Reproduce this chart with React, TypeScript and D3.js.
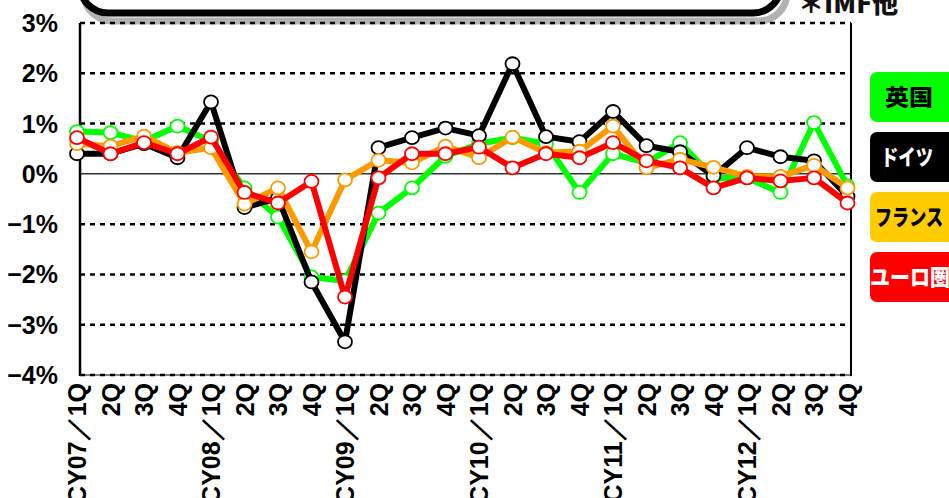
import React from "react";
import * as d3 from "d3";

const quarters = [
  "CY07／1Q", "2Q", "3Q", "4Q",
  "CY08／1Q", "2Q", "3Q", "4Q",
  "CY09／1Q", "2Q", "3Q", "4Q",
  "CY10／1Q", "2Q", "3Q", "4Q",
  "CY11／1Q", "2Q", "3Q", "4Q",
  "CY12／1Q", "2Q", "3Q", "4Q",
];

const yTicks = [3, 2, 1, 0, -1, -2, -3, -4];

const uk = [0.84, 0.82, 0.65, 0.95, 0.65, -0.28, -0.86, -2.05, -2.13, -0.78, -0.28, 0.35,
  0.6, 0.72, 0.6, -0.37, 0.4, 0.22, 0.62, -0.08, -0.08, -0.37, 1.02, -0.24];
const germany = [0.4, 0.4, 0.6, 0.32, 1.43, -0.67, -0.48, -2.15, -3.34, 0.52, 0.72, 0.91,
  0.76, 2.19, 0.74, 0.64, 1.24, 0.56, 0.44, -0.04, 0.52, 0.34, 0.26, -0.45];
const france = [0.6, 0.55, 0.75, 0.42, 0.52, -0.6, -0.28, -1.55, -0.12, 0.27, 0.22, 0.55,
  0.32, 0.73, 0.42, 0.45, 0.95, 0.12, 0.29, 0.13, -0.05, -0.05, 0.17, -0.28];
const euro = [0.72, 0.4, 0.62, 0.4, 0.73, -0.37, -0.58, -0.15, -2.45, -0.08, 0.4, 0.4,
  0.53, 0.12, 0.4, 0.32, 0.62, 0.26, 0.12, -0.28, -0.08, -0.14, -0.08, -0.58];

const seriesNames = ["英国", "ドイツ", "フランス", "ユーロ圏"];
const seriesColors = ["#00ff00", "#000000", "#ff9900", "#ff0000"];
const legendFills = ["#00ff00", "#000000", "#ffcc00", "#ff0000"];
const legendText = ["#000000", "#ffffff", "#000000", "#ffffff"];
const seriesData = [uk, germany, france, euro];

const NARROW = "'Liberation Sans Narrow', 'Arial Narrow', 'Liberation Sans', Arial, sans-serif";
const CJK = "'Noto Sans CJK JP', sans-serif";

export default function App() {
  const W = 949, H = 498;
  const x = d3.scalePoint<number>().domain(quarters.map((_, i) => i)).range([77, 847.5]);
  const y = d3.scaleLinear().domain([-4, 3]).range([375, 23]);
  const line = d3.line<number>().x((_, i) => x(i) as number).y((d) => y(d));
  const plotL = 80, plotR = 851;

  return (
    <svg width={W} height={H} style={{ position: "absolute", left: 0, top: 0, background: "#fff" }}>
      {/* title box (cropped) */}
      <rect x={84} y={-60} width={703} height={81} rx={28} fill="none" stroke="#b3b3b3" strokeWidth={7} />
      <rect x={80} y={-60} width={701} height={73} rx={28} fill="#fff" stroke="#000" strokeWidth={7} />
      <text x={798} y={13} fontFamily={CJK} fontWeight={900} fontSize={26} fill="#111"
        textLength={100} lengthAdjust="spacingAndGlyphs">＊IMF他</text>

      {/* grid */}
      {yTicks.map((t) => (
        t === 0 ? (
          <line key={t} x1={plotL} x2={plotR} y1={y(t)} y2={y(t)} stroke="#333" strokeWidth={1.5} />
        ) : (
          <line key={t} x1={plotL} x2={plotR} y1={y(t)} y2={y(t)} stroke="#000" strokeWidth={2.5} strokeDasharray="5,5" />
        )
      ))}
      <line x1={plotL} x2={plotR} y1={y(-4)} y2={y(-4)} stroke="#000" strokeWidth={1} />
      <line x1={plotL} x2={plotL} y1={y(3)} y2={y(-4) + 1} stroke="#000" strokeWidth={2.5} />
      <line x1={plotR} x2={plotR} y1={y(3)} y2={y(-4) + 1} stroke="#000" strokeWidth={2} />

      {/* y labels */}
      {yTicks.map((t) => (
        <text key={t} x={58} y={y(t)} dy="0.36em" textAnchor="end" fontFamily={NARROW} fontWeight={700} fontSize={25} fill="#000">
          {t < 0 ? `−${-t}%` : `${t}%`}
        </text>
      ))}

      {/* x labels */}
      {quarters.map((q, i) => (
        <text key={i} transform={`translate(${(x(i) as number) + 9},383) rotate(-90)`} textAnchor="end"
          fontFamily={NARROW} fontWeight={700} fontSize={25} fill="#000">{q}</text>
      ))}

      {/* series */}
      {seriesData.map((s, k) => (
        <g key={k}>
          <path d={line(s) as string} fill="none" stroke={seriesColors[k]} strokeWidth={6} strokeLinejoin="round" />
          {s.map((v, i) => (
            <ellipse key={i} cx={x(i) as number} cy={y(v)} rx={7} ry={6.5} fill="#fff" stroke={seriesColors[k]} strokeWidth={1.8} />
          ))}
        </g>
      ))}

      {/* legend */}
      {seriesNames.map((n, k) => (
        <g key={k}>
          <rect x={870} y={72 + k * 60} width={90} height={50} rx={7} fill={legendFills[k]} />
          <text x={k === 0 ? 909 : k === 1 ? 907 : k === 2 ? 909 : 910} y={97 + k * 60} dy="0.36em" textAnchor="middle"
            fontFamily={CJK} fontWeight={900} fontSize={22} fill={legendText[k]}
            textLength={k === 0 ? 48 : k === 1 ? 52 : k === 2 ? 68 : 80} lengthAdjust="spacingAndGlyphs">{n}</text>
        </g>
      ))}
    </svg>
  );
}
